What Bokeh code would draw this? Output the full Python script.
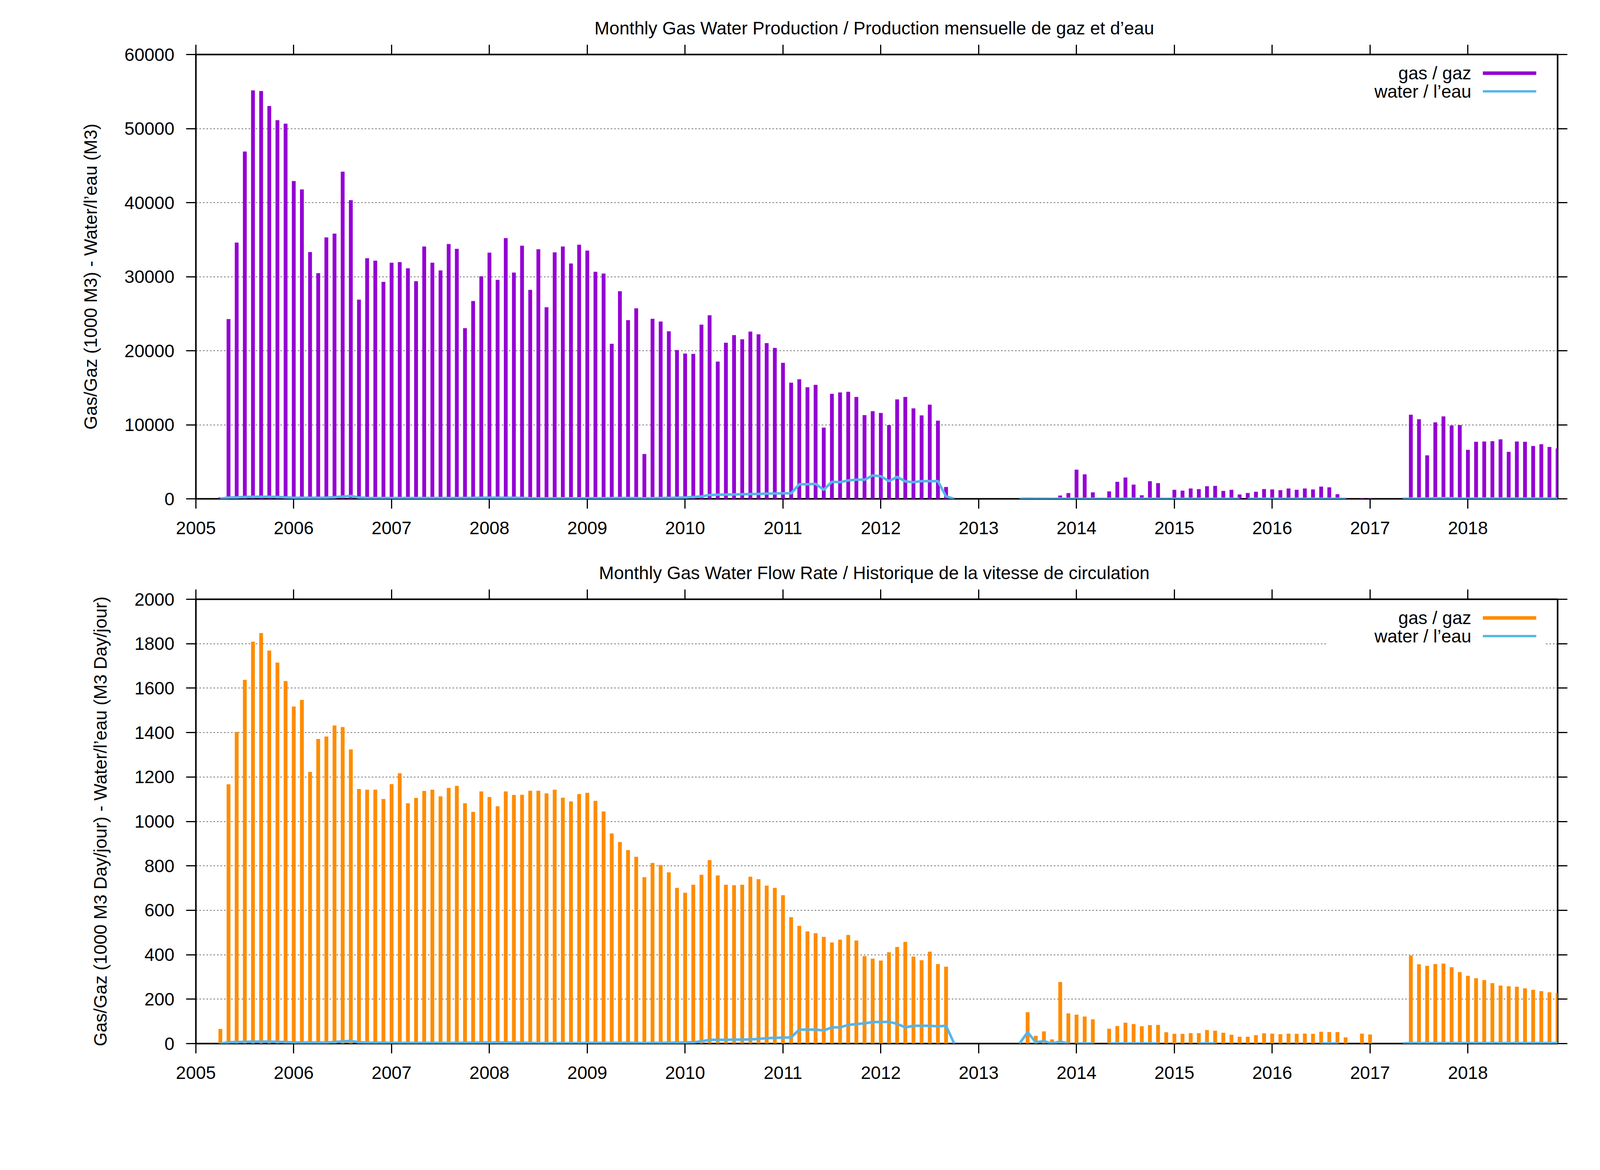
from bokeh.plotting import figure
from bokeh.layouts import column
from bokeh.models import Range1d, FixedTicker, LinearAxis, BasicTickFormatter, Grid
from bokeh.core.properties import value
from bokeh.embed import file_html
from bokeh.resources import INLINE

# ---------------- data (monthly, first month = 2005-04) ----------------
first_year, first_month = 2005, 4

gas_prod = [
    200, 24270, 34600, 46900, 55160, 55070, 53050, 51130, 50660,
    42910, 41780, 33330, 30470, 35300, 35820, 44180, 40330, 26900, 32490, 32160, 29300,
    31880, 31970, 31130, 29390, 34080, 31880, 30850, 34410, 33760, 23050, 26710, 30050,
    33240, 29580, 35210, 30560, 34180, 28220, 33710, 25870, 33290, 34080, 31780, 34320,
    33520, 30660, 30420, 20940, 28030, 24130, 25730, 6060, 24320, 23940, 22630, 20090,
    19620, 19580, 23520, 24790, 18540, 21080, 22110, 21550, 22580, 22210, 21030, 20380,
    18360, 15680, 16150, 15070, 15400, 9620, 14180, 14370, 14460, 13760, 11310, 11830,
    11600, 9950, 13430, 13760, 12210, 11270, 12720, 10560, 1600, 0, 0, 0,
    0, 0, 0, 0, 0, 0, 60, 30, 40, 20, 450, 780,
    3940, 3310, 880, 0, 1000, 2300, 2880, 1920, 480, 2380, 2120, 40,
    1220, 1110, 1400, 1310, 1700, 1750, 1070, 1220, 590, 790, 960, 1320,
    1270, 1170, 1400, 1220, 1400, 1270, 1650, 1550, 630, 60, 0, 60,
    60, 0, 0, 0, 0, 11360, 10750, 5870, 10330, 11130, 9910, 9950,
    6620, 7700, 7750, 7790, 8030, 6340, 7750, 7700, 7140, 7370, 7000, 6810,
]

water_prod = [
    0, 180, 200, 250, 280, 280, 280, 250, 200,
    150, 150, 140, 140, 160, 220, 300, 380, 180, 120, 110, 100,
    100, 100, 100, 100, 100, 100, 100, 100, 100, 120, 130, 150,
    160, 150, 150, 150, 120, 80, 50, 50, 60, 60, 60, 70,
    80, 80, 80, 90, 100, 110, 90, 60, 80, 100, 130, 150,
    190, 250, 330, 520, 560, 580, 600, 620, 640, 660, 700, 720,
    750, 750, 1970, 1970, 2020, 1220, 2300, 2250, 2490, 2580, 2580, 3150,
    3050, 2390, 2960, 2350, 2250, 2390, 2390, 2390, 330, 0, None, None,
    None, None, None, None, None, 0, 20, 10, 10, 5, 10, 5,
    5, 5, 5, 5, 5, 5, 5, 5, 5, 5, 5, 5,
    5, 5, 5, 5, 5, 5, 5, 5, 5, 5, 5, 5,
    5, 5, 5, 5, 5, 5, 5, 5, 5, 5, None, None,
    None, None, None, None, 10, 20, 20, 20, 80, 80, 80, 20,
    20, 20, 20, 20, 20, 20, 20, 20, 20, 20, 20, 20,
]
water_prod_breaks = ["2015-10"]

gas_rate = [
    66, 1167, 1403, 1637, 1809, 1848, 1769, 1715, 1632,
    1517, 1547, 1223, 1371, 1382, 1432, 1425, 1324, 1146, 1143, 1143, 1101,
    1168, 1217, 1082, 1106, 1137, 1143, 1113, 1151, 1160, 1082, 1043, 1135,
    1110, 1068, 1135, 1119, 1120, 1138, 1138, 1126, 1143, 1107, 1090, 1123,
    1129, 1093, 1045, 946, 907, 871, 841, 749, 813, 804, 771, 701,
    679, 715, 760, 826, 757, 715, 713, 715, 751, 740, 711, 701,
    668, 569, 530, 505, 497, 480, 455, 468, 489, 464, 394, 382,
    374, 411, 435, 458, 392, 375, 414, 358, 346, 0, 0, 0,
    0, 0, 0, 0, 0, 0, 141, 35, 55, 19, 277, 136,
    130, 122, 109, 0, 67, 79, 94, 88, 78, 83, 84, 51,
    44, 44, 47, 47, 61, 58, 49, 40, 31, 31, 38, 46,
    45, 42, 45, 44, 45, 44, 53, 52, 52, 28, 0, 45,
    41, 0, 0, 0, 0, 396, 357, 350, 358, 360, 344, 322,
    305, 294, 286, 272, 261, 258, 256, 249, 242, 236, 231, 227,
]

water_rate = [
    0, 6, 7, 8, 9, 9, 9, 8, 7,
    5, 5, 5, 5, 5, 7, 10, 12, 6, 4, 4, 4,
    3, 3, 3, 3, 3, 3, 3, 3, 3, 4, 4, 5,
    5, 5, 5, 5, 4, 3, 2, 2, 2, 2, 2, 2,
    3, 3, 3, 3, 3, 4, 3, 2, 3, 3, 4, 5,
    5, 6, 10, 17, 17, 17, 18, 18, 19, 21, 24, 26,
    27, 28, 63, 63, 63, 59, 73, 73, 84, 88, 91, 97,
    97, 98, 89, 73, 80, 80, 80, 78, 80, 0, None, None,
    None, None, None, None, None, 0, 51, 6, 11, 0, 9, 0,
    1, 1, 1, None, 1, 1, 1, 1, 1, 1, 1, None,
    None, None, None, 1, 1, 1, None, None, None, None, None, None,
    None, None, None, None, None, None, 1, 1, 1, None, None, None,
    None, None, None, None, 1, 2, 2, 2, 2, 2, 2, 2,
    2, 2, 2, 2, 2, 2, 2, 2, 2, 2, 2, 2,
]
water_rate_breaks = ["2014-01"]

year_ticks = [2005, 2006, 2007, 2008, 2009, 2010, 2011, 2012, 2013, 2014, 2015, 2016, 2017, 2018]
prod_ticks = [0, 10000, 20000, 30000, 40000, 50000, 60000]
rate_ticks = [0, 200, 400, 600, 800, 1000, 1200, 1400, 1600, 1800, 2000]

title_prod = "Monthly Gas  Water Production / Production mensuelle de gaz et d\u2019eau"
title_rate = "Monthly Gas  Water Flow Rate / Historique de la vitesse de circulation"
ylabel_prod = "Gas/Gaz (1000 M3) - Water/l\u2019eau (M3)"
ylabel_rate = "Gas/Gaz (1000 M3 Day/jour) - Water/l\u2019eau (M3 Day/jour)"
legend_labels = ["gas / gaz", "water / l\u2019eau"]

# ---------------- style ----------------
FONT = "Liberation Sans"
FS = "46px"
PURPLE = "#9400D3"
ORANGE = "#FF8C00"
CYAN = "#56B4E9"
X0 = 2005.0
X1 = 2018 + 11 / 12
FRAME_W, FRAME_H = 3486, 1137


def month_x(i):
    return first_year + (first_month - 1 + i) / 12.0


def month_index(s):
    y, m = s.split("-")
    return (int(y) - first_year) * 12 + (int(m) - first_month)


def segments(vals, breaks):
    brk = {month_index(b) for b in breaks}
    xs_all, ys_all = [], []
    cx, cy = [], []
    for i, v in enumerate(vals):
        if v is None or i in brk:
            if len(cx) > 1:
                xs_all.append(cx)
                ys_all.append(cy)
            cx, cy = [], []
        if v is not None:
            cx.append(month_x(i))
            cy.append(v)
    if len(cx) > 1:
        xs_all.append(cx)
        ys_all.append(cy)
    return xs_all, ys_all


def style_axis(ax, ticks, labels=True, standoff=28):
    ax.ticker = FixedTicker(ticks=ticks)
    ax.axis_line_color = None
    ax.major_tick_line_color = "black"
    ax.major_tick_line_width = 3
    ax.major_tick_out = 25
    ax.major_tick_in = 0
    ax.minor_tick_line_color = None
    ax.major_label_text_font = FONT
    ax.major_label_text_color = "black"
    ax.formatter = BasicTickFormatter(use_scientific=False)
    if labels:
        ax.major_label_text_font_size = FS
        ax.major_label_standoff = standoff
    else:
        # gnuplot mirror tics: tick marks without visible labels
        ax.major_label_text_font_size = "0px"
        ax.major_label_standoff = 0


def make_fig(title, ylabel, ymax, yticks, gas, bar_color, water, water_breaks,
             border_top, border_bottom):
    p = figure(frame_width=FRAME_W, frame_height=FRAME_H,
               output_backend="svg", toolbar_location=None,
               x_range=Range1d(X0, X1), y_range=Range1d(0, ymax),
               x_axis_type=None, y_axis_type=None,
               min_border_left=501, min_border_right=111,
               min_border_top=border_top, min_border_bottom=border_bottom)
    p.background_fill_color = "white"
    p.border_fill_color = "white"
    p.outline_line_color = "black"
    p.outline_line_width = 4

    p.title.text = title
    p.title.align = "center"
    p.title.text_font = FONT
    p.title.text_font_size = FS
    p.title.text_font_style = "normal"
    p.title.text_color = "black"
    p.title.standoff = 34

    xb = LinearAxis()
    style_axis(xb, year_ticks, True, 33)
    p.add_layout(xb, "below")
    xa = LinearAxis()
    style_axis(xa, year_ticks, False)
    p.add_layout(xa, "above")
    yl = LinearAxis(axis_label=ylabel)
    style_axis(yl, yticks, True, 30)
    yl.axis_label_text_font = FONT
    yl.axis_label_text_font_size = FS
    yl.axis_label_text_font_style = "normal"
    yl.axis_label_text_color = "black"
    yl.axis_label_standoff = 58
    p.add_layout(yl, "left")
    yr = LinearAxis()
    style_axis(yr, yticks, False)
    p.add_layout(yr, "right")

    grid = Grid(dimension=1, ticker=FixedTicker(ticks=yticks))
    grid.grid_line_color = "#000000"
    grid.grid_line_alpha = 0.75
    grid.grid_line_width = 1.4
    grid.grid_line_dash = "4 5"
    p.add_layout(grid)

    xs = [month_x(i) for i in range(len(gas))]
    p.vbar(x=xs, top=gas, bottom=0, width=0.039, fill_color=bar_color, line_color=None)

    wx, wy = segments(water, water_breaks)
    p.multi_line(xs=wx, ys=wy, line_color=CYAN, line_width=6.5, line_join="round")

    # legend (gnuplot style: label right-aligned, sample to the right)
    def fx(f):
        return X0 + f * (X1 - X0)

    def fy(f):
        return ymax * (1 - f)

    p.quad(left=[fx(0.831)], right=[fx(0.991)], top=[fy(0.015)], bottom=[fy(0.112)],
           fill_color="white", line_color=None)
    rows = [0.042, 0.083]
    p.text(x=[fx(0.9366)] * 2, y=[fy(r) for r in rows], text=legend_labels,
           text_font=value(FONT), text_font_size=FS, text_align="right",
           text_baseline="middle", text_color="black")
    p.segment(x0=[fx(0.9451)], y0=[fy(rows[0])], x1=[fx(0.9843)], y1=[fy(rows[0])],
              line_color=bar_color, line_width=9, line_cap="butt")
    p.segment(x0=[fx(0.9451)], y0=[fy(rows[1])], x1=[fx(0.9843)], y1=[fy(rows[1])],
              line_color=CYAN, line_width=6, line_cap="butt")
    return p


p1 = make_fig(title_prod, ylabel_prod, 60000, prod_ticks, gas_prod, PURPLE,
              water_prod, water_prod_breaks, 139, 118)
p2 = make_fig(title_rate, ylabel_rate, 2000, rate_ticks, gas_rate, ORANGE,
              water_rate, water_rate_breaks, 139, 300)

layout = column(p1, p2, spacing=0)
open("out.html", "w").write(file_html(layout, INLINE))
